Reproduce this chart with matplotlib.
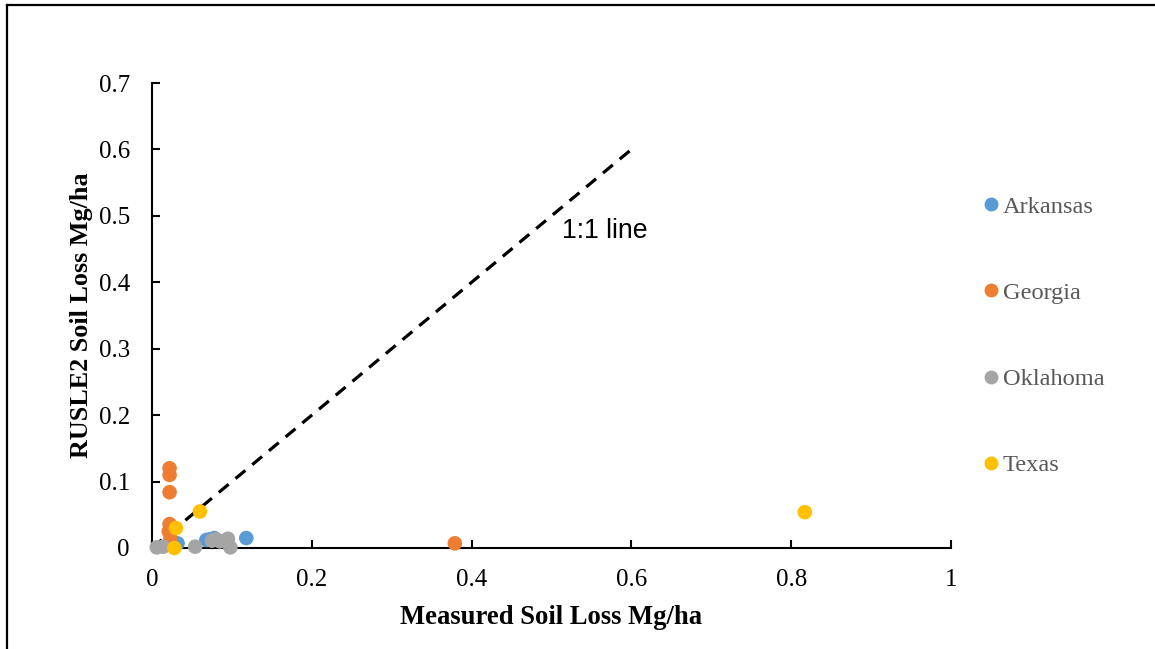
import matplotlib
matplotlib.use("Agg")
import matplotlib.pyplot as plt
from matplotlib.lines import Line2D

# ---- data ----
series_names = ["Arkansas", "Georgia", "Oklahoma", "Texas"]
colors = ["#5B9BD5", "#ED7D31", "#A5A5A5", "#FFC000"]

ark_x = [0.032, 0.068, 0.072, 0.078, 0.118]
ark_y = [0.007, 0.012, 0.013, 0.015, 0.015]

geo_x = [0.022, 0.022, 0.022, 0.022, 0.021, 0.023, 0.379]
geo_y = [0.120, 0.110, 0.084, 0.036, 0.025, 0.014, 0.007]

okl_x = [0.006, 0.014, 0.054, 0.075, 0.080, 0.085, 0.095, 0.098]
okl_y = [0.001, 0.002, 0.002, 0.011, 0.013, 0.010, 0.014, 0.001]

tex_x = [0.060, 0.030, 0.028, 0.817]
tex_y = [0.055, 0.030, 0.000, 0.054]

one_to_one = [0.0, 0.6]

xticks = [0, 0.2, 0.4, 0.6, 0.8, 1]
xtick_labels = ["0", "0.2", "0.4", "0.6", "0.8", "1"]
yticks = [0, 0.1, 0.2, 0.3, 0.4, 0.5, 0.6, 0.7]
ytick_labels = ["0", "0.1", "0.2", "0.3", "0.4", "0.5", "0.6", "0.7"]

serif = "Liberation Serif"

fig = plt.figure(figsize=(11.55, 6.49), dpi=100)
ax = fig.add_axes([152/1155, 1-548/649, (951-152)/1155, (548-83)/649])

ax.plot(one_to_one, one_to_one, color="black", lw=2.3, dashes=(4, 2.8), zorder=1)

all_x = [ark_x, geo_x, okl_x, tex_x]
all_y = [ark_y, geo_y, okl_y, tex_y]
for name, c, xs, ys in zip(series_names, colors, all_x, all_y):
    ax.scatter(xs, ys, s=110, color=c, edgecolors="none", zorder=3, clip_on=False, label=name)

ax.set_xlim(0, 1)
ax.set_ylim(0, 0.7)
ax.set_xticks(xticks)
ax.set_xticklabels(xtick_labels)
ax.set_yticks(yticks)
ax.set_yticklabels(ytick_labels)
for lab in ax.get_xticklabels() + ax.get_yticklabels():
    lab.set_fontfamily(serif)
    lab.set_fontsize(18)
    lab.set_color("#000000")
ax.tick_params(axis="both", direction="in", length=6, width=1.5, color="black")
ax.tick_params(axis="x", pad=15)
ax.tick_params(axis="y", pad=16)

for s in ["top", "right"]:
    ax.spines[s].set_visible(False)
for s in ["left", "bottom"]:
    ax.spines[s].set_linewidth(1.5)
    ax.spines[s].set_color("black")

ax.set_xlabel("Measured Soil Loss Mg/ha", fontfamily=serif, fontsize=19.2, fontweight="bold", labelpad=10)
ax.set_ylabel("RUSLE2 Soil Loss Mg/ha", fontfamily=serif, fontsize=18.8, fontweight="bold", labelpad=4)

ax.text(0.567, 0.477, "1:1 line", fontfamily="Liberation Sans", fontsize=19.2,
        ha="center", va="center", color="black")

handles = [Line2D([], [], marker="o", linestyle="none", markersize=10,
                  markerfacecolor=c, markeredgecolor="none") for c in colors]
leg = fig.legend(handles, series_names, loc="center left",
                 bbox_to_anchor=(982/1155, 1-336/649), frameon=False,
                 prop={"family": serif, "size": 17.6}, labelspacing=2.62,
                 handlelength=0.7, handletextpad=0.15, borderpad=0, borderaxespad=0)
for t in leg.get_texts():
    t.set_color("#595959")

# outer frame (left and top edges)
fig.add_artist(Line2D([6.5/1155, 6.5/1155], [0, 1-5/649], transform=fig.transFigure,
                      color="black", lw=1.6))
fig.add_artist(Line2D([6.5/1155, 1], [1-5/649, 1-5/649], transform=fig.transFigure,
                      color="black", lw=1.6))

fig.savefig("out.png", dpi=100)
